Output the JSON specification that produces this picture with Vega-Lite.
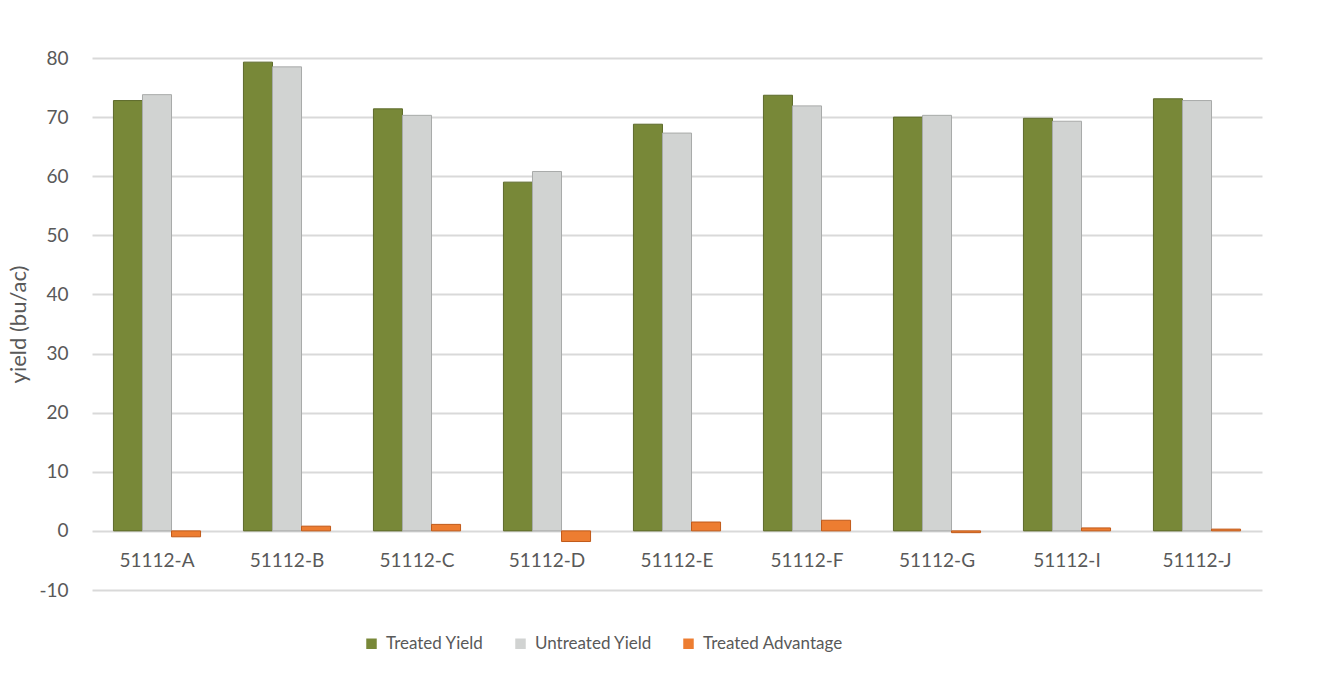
{
  "$schema": "https://vega.github.io/schema/vega-lite/v6.json",
  "width": 1170,
  "height": 532,
  "autosize": "none",
  "padding": {"left": 92, "top": 58, "right": 72, "bottom": 83},
  "background": "#ffffff",
  "config": {
    "font": "Lato",
    "view": {"stroke": null}
  },
  "data": {
    "values": [
      {"hybrid": "51112-A", "series": "Treated Yield", "value": 72.8},
      {"hybrid": "51112-A", "series": "Untreated Yield", "value": 73.8},
      {"hybrid": "51112-A", "series": "Treated Advantage", "value": -1.0},
      {"hybrid": "51112-B", "series": "Treated Yield", "value": 79.3},
      {"hybrid": "51112-B", "series": "Untreated Yield", "value": 78.5},
      {"hybrid": "51112-B", "series": "Treated Advantage", "value": 0.8},
      {"hybrid": "51112-C", "series": "Treated Yield", "value": 71.4},
      {"hybrid": "51112-C", "series": "Untreated Yield", "value": 70.3},
      {"hybrid": "51112-C", "series": "Treated Advantage", "value": 1.1},
      {"hybrid": "51112-D", "series": "Treated Yield", "value": 59.0},
      {"hybrid": "51112-D", "series": "Untreated Yield", "value": 60.8},
      {"hybrid": "51112-D", "series": "Treated Advantage", "value": -1.8},
      {"hybrid": "51112-E", "series": "Treated Yield", "value": 68.8},
      {"hybrid": "51112-E", "series": "Untreated Yield", "value": 67.3},
      {"hybrid": "51112-E", "series": "Treated Advantage", "value": 1.5},
      {"hybrid": "51112-F", "series": "Treated Yield", "value": 73.7},
      {"hybrid": "51112-F", "series": "Untreated Yield", "value": 71.9},
      {"hybrid": "51112-F", "series": "Treated Advantage", "value": 1.8},
      {"hybrid": "51112-G", "series": "Treated Yield", "value": 70.0},
      {"hybrid": "51112-G", "series": "Untreated Yield", "value": 70.3},
      {"hybrid": "51112-G", "series": "Treated Advantage", "value": -0.3},
      {"hybrid": "51112-I", "series": "Treated Yield", "value": 69.8},
      {"hybrid": "51112-I", "series": "Untreated Yield", "value": 69.3},
      {"hybrid": "51112-I", "series": "Treated Advantage", "value": 0.5},
      {"hybrid": "51112-J", "series": "Treated Yield", "value": 73.1},
      {"hybrid": "51112-J", "series": "Untreated Yield", "value": 72.8},
      {"hybrid": "51112-J", "series": "Treated Advantage", "value": 0.3}
    ]
  },
  "mark": {"type": "bar", "strokeWidth": 1},
  "encoding": {
    "x": {
      "field": "hybrid",
      "type": "nominal",
      "sort": null,
      "scale": {"paddingInner": 0.33, "paddingOuter": 0.165},
      "axis": {
        "title": null,
        "labelAngle": 0,
        "domain": false,
        "ticks": false,
        "offset": -59,
        "labelPadding": 20,
        "labelFont": "Lato",
        "labelFontSize": 19,
        "labelColor": "#595959"
      }
    },
    "xOffset": {
      "field": "series",
      "type": "nominal",
      "sort": ["Treated Yield", "Untreated Yield", "Treated Advantage"],
      "scale": {"paddingInner": 0, "paddingOuter": 0}
    },
    "y": {
      "field": "value",
      "type": "quantitative",
      "scale": {"domain": [-10, 80], "nice": false, "zero": false},
      "axis": {
        "title": "yield (bu/ac)",
        "titleFont": "Lato",
        "titleFontSize": 22,
        "titleFontWeight": "normal",
        "titleColor": "#595959",
        "titlePadding": 8,
        "values": [-10, 0, 10, 20, 30, 40, 50, 60, 70, 80],
        "labelExpr": "'' + datum.value",
        "labelFont": "Lato",
        "labelFontSize": 19,
        "labelColor": "#595959",
        "labelPadding": 24,
        "domain": false,
        "ticks": false,
        "grid": true,
        "gridColor": "#d9d9d9",
        "gridWidth": 2
      }
    },
    "color": {
      "field": "series",
      "type": "nominal",
      "sort": ["Treated Yield", "Untreated Yield", "Treated Advantage"],
      "scale": {
        "domain": ["Treated Yield", "Untreated Yield", "Treated Advantage"],
        "range": ["#788838", "#d1d3d2", "#ed7d31"]
      },
      "legend": {
        "title": null,
        "orient": "none",
        "direction": "horizontal",
        "legendX": 271,
        "legendY": 577,
        "symbolType": "square",
        "symbolSize": 110,
        "symbolStrokeWidth": 0,
        "labelFont": "Lato",
        "labelFontSize": 17,
        "labelColor": "#595959",
        "labelOffset": 6,
        "columnPadding": 28
      }
    },
    "stroke": {
      "field": "series",
      "type": "nominal",
      "scale": {
        "domain": ["Treated Yield", "Untreated Yield", "Treated Advantage"],
        "range": ["#5d6a2b", "#a8aaa9", "#c05a1a"]
      },
      "legend": null
    }
  }
}
